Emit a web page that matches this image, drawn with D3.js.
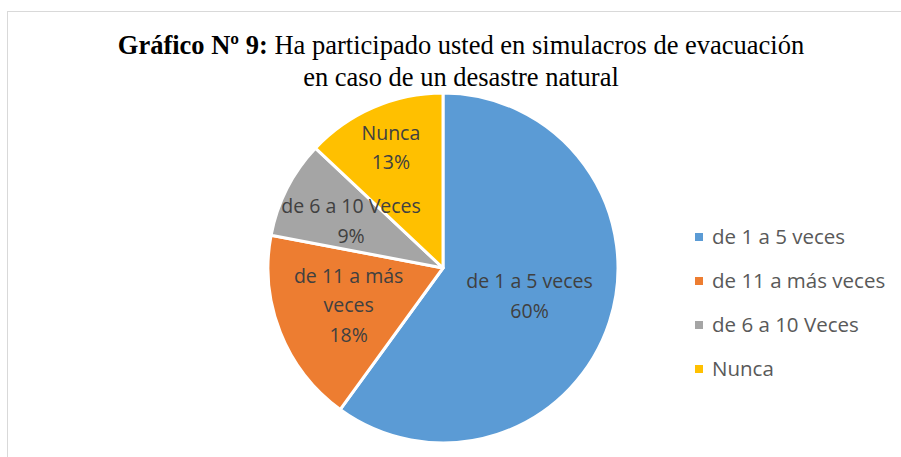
<!DOCTYPE html>
<meta charset="utf-8" />
<style>
  body { margin: 0; background: #fff; }
  .label { font-family: "Open Sans", sans-serif; font-size: 19.5px; fill: #404040; text-anchor: middle; }
  .legend { font-family: "Open Sans", sans-serif; font-size: 20.5px; fill: #595959; }
  .title { font-family: "Liberation Serif", "Times New Roman", serif; font-size: 26.5px; fill: #000; text-anchor: middle; }
</style>
<body>
<script src="https://d3js.org/d3.v7.min.js"></script>
<script>
  // data
  var categories = ["de 1 a 5 veces", "de 11 a más veces", "de 6 a 10 Veces", "Nunca"];
  var values = [60, 18, 9, 13];
  var colors = ["#5b9bd5", "#ed7d31", "#a5a5a5", "#ffc000"];
  // how the in-slice labels break into lines (Excel-ish wrapping)
  var labelLines = [
    ["de 1 a 5 veces"],
    ["de 11 a más", "veces"],
    ["de 6 a 10 Veces"],
    ["Nunca"]
  ];

  var width = 901, height = 457;
  var cx = 443, cy = 268, radius = 175;

  var svg = d3.select("body").append("svg")
    .attr("width", width)
    .attr("height", height);

  // chart area border
  svg.append("rect")
    .attr("x", 7.5).attr("y", 11.5)
    .attr("width", width).attr("height", height)
    .attr("fill", "none")
    .attr("stroke", "#d9d9d9");

  // title
  var title = svg.append("text").attr("class", "title").attr("x", 461).attr("y", 54);
  title.append("tspan").attr("font-weight", "bold").text("Gráfico Nº 9:");
  title.append("tspan").text(" Ha participado usted en simulacros de evacuación");
  svg.append("text").attr("class", "title").attr("x", 461).attr("y", 85.5)
    .text("en caso de un desastre natural");

  var pie = d3.pie().sort(null).value(function (d) { return d; });
  var arcs = pie(values);
  var arc = d3.arc().innerRadius(0).outerRadius(radius);

  var g = svg.append("g").attr("transform", "translate(" + cx + "," + cy + ")");

  g.selectAll("path.slice")
    .data(arcs)
    .enter().append("path")
    .attr("class", "slice")
    .attr("d", arc)
    .attr("fill", function (d, i) { return colors[i]; })
    .attr("stroke", "#fff")
    .attr("stroke-width", 3)
    .attr("stroke-linejoin", "round");

  // label radius as fraction of the pie radius (best-fit placement)
  var labelFrac = [0.52, 0.58, 0.59, 0.75];
  var total = d3.sum(values);

  arcs.forEach(function (d, i) {
    var r = radius * labelFrac[i];
    var la = d3.arc().innerRadius(r).outerRadius(r);
    var c = la.centroid(d);
    var lines = labelLines[i].concat([Math.round(d.value / total * 100) + "%"]);
    var lh = 29.5;
    var t = g.append("text").attr("class", "label");
    lines.forEach(function (s, k) {
      t.append("tspan")
        .attr("x", c[0])
        .attr("y", c[1] + (k - (lines.length - 1) / 2) * lh + 7)
        .text(s);
    });
  });

  // legend
  var legend = svg.append("g").attr("transform", "translate(695,237)");
  var items = legend.selectAll("g")
    .data(categories)
    .enter().append("g")
    .attr("transform", function (d, i) { return "translate(0," + i * 44 + ")"; });
  items.append("rect")
    .attr("x", 0).attr("y", -4)
    .attr("width", 8).attr("height", 8)
    .attr("fill", function (d, i) { return colors[i]; });
  items.append("text")
    .attr("class", "legend")
    .attr("x", 17).attr("y", 7)
    .text(function (d) { return d; });
</script>
</body>
